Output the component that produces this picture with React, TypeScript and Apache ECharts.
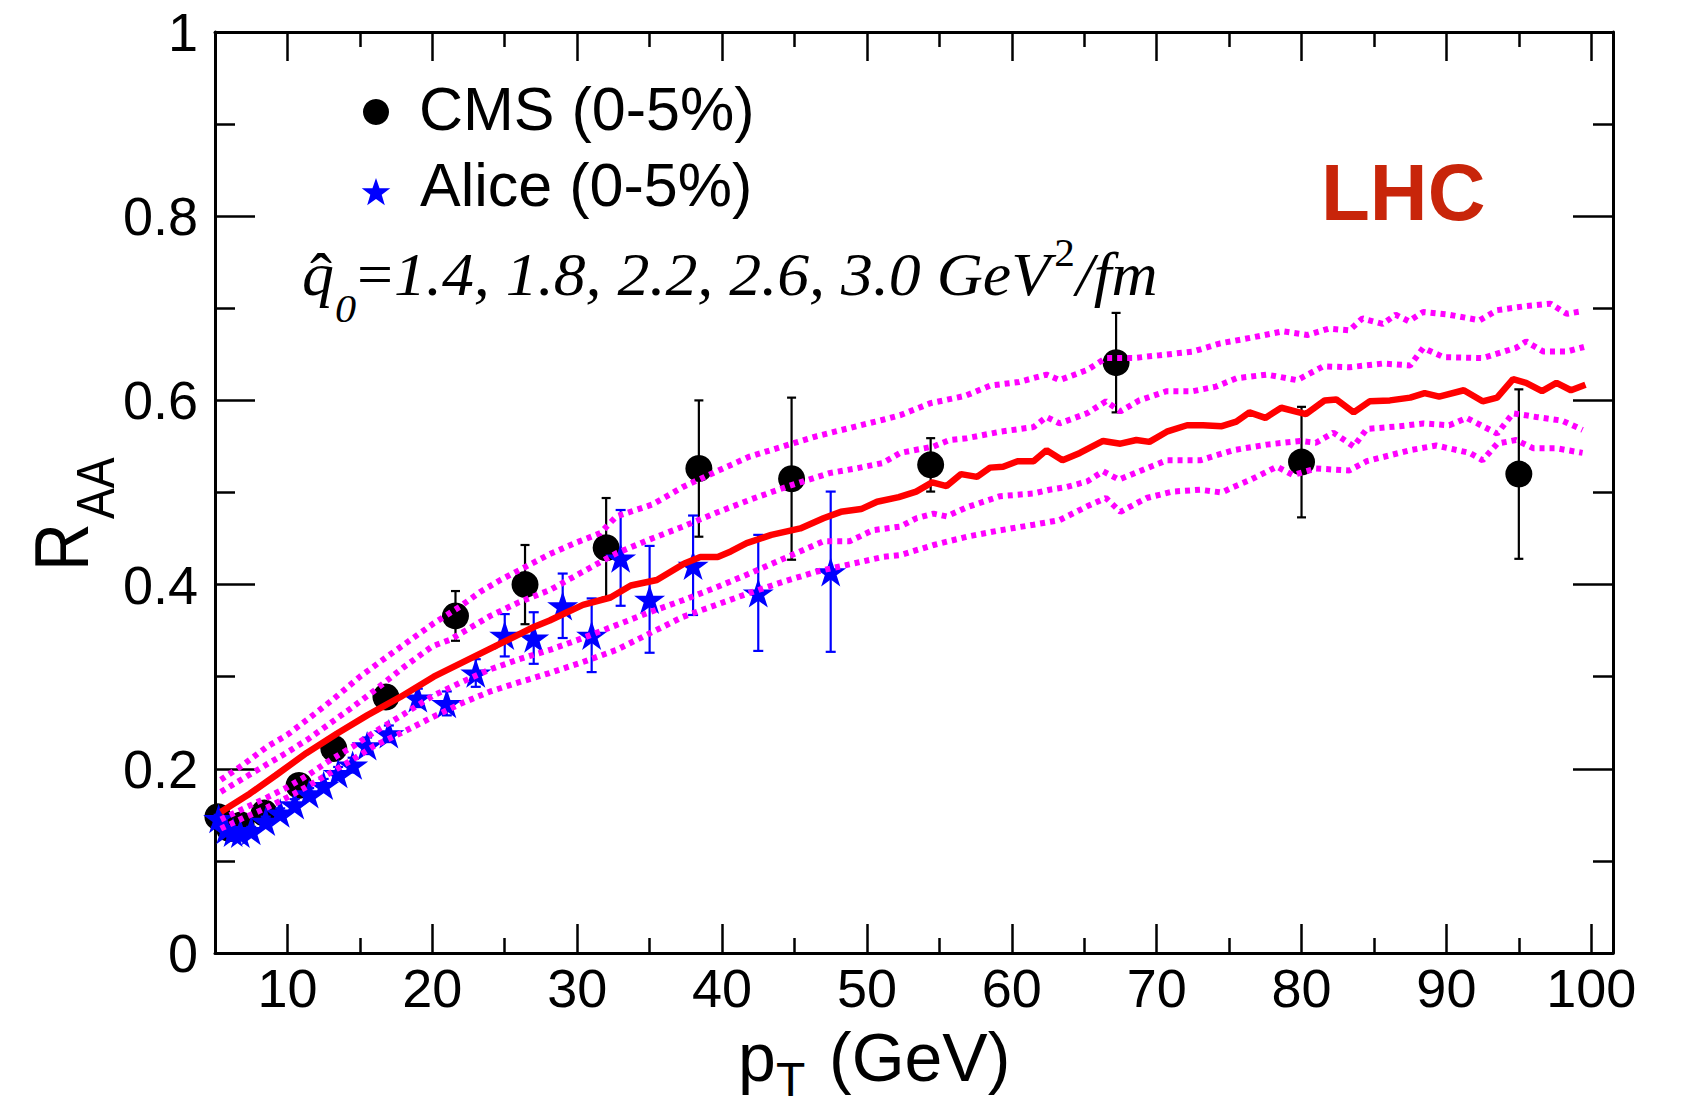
import React, { useEffect, useRef } from "react";
import * as echarts from "echarts";

// ---------- axis ticks ----------
const xMajorTicks = [10, 20, 30, 40, 50, 60, 70, 80, 90, 100];
const xMinorTicks = [15, 25, 35, 45, 55, 65, 75, 85, 95];

// ---------- CMS (0-5%) ----------
const cmsPt = [5.2, 6.0, 6.8, 8.4, 10.8, 13.2, 16.8, 21.6, 26.4, 32.0, 38.4, 44.8, 54.4, 67.2, 80.0, 95.0];
const cmsRaa = [0.148, 0.135, 0.139, 0.152, 0.182, 0.222, 0.278, 0.366, 0.4, 0.44, 0.526, 0.515, 0.53, 0.641, 0.533, 0.52];
const cmsErr = [0.005, 0.005, 0.005, 0.006, 0.007, 0.009, 0.012, 0.027, 0.043, 0.054, 0.074, 0.088, 0.029, 0.054, 0.06, 0.092];

// ---------- ALICE (0-5%) ----------
const alicePt = [5.25, 5.75, 6.25, 6.75, 7.5, 8.5, 9.5, 10.5, 11.5, 12.5, 13.5, 14.5, 15.5, 17, 19, 21, 23, 25, 27, 29, 31, 33, 35, 38, 42.5, 47.5];
const aliceRaa = [0.146, 0.134, 0.131, 0.13, 0.133, 0.143, 0.152, 0.161, 0.173, 0.182, 0.195, 0.204, 0.225, 0.238, 0.277, 0.271, 0.304, 0.345, 0.342, 0.377, 0.345, 0.429, 0.384, 0.421, 0.391, 0.414];
const aliceErr = [0.004, 0.004, 0.004, 0.004, 0.004, 0.005, 0.005, 0.006, 0.006, 0.007, 0.007, 0.008, 0.009, 0.009, 0.01, 0.013, 0.015, 0.023, 0.028, 0.035, 0.04, 0.052, 0.058, 0.054, 0.063, 0.087];

// ---------- theory curves, qhat0 = 1.4 ... 3.0 GeV^2/fm ----------
const q14Pt = [5.4, 7, 8.6, 10, 11.5, 13.2, 15, 16.9, 18.5, 20.1, 21.9, 23.3, 24.7, 26.4, 28.1, 30, 31.6, 32.7, 35.2, 37.3, 39.5, 41.9, 44.2, 46.5, 48.8, 51.1, 52.3, 54.4, 56.8, 58.5, 60.5, 62.4, 63.3, 65.2, 66.5, 68.4, 70.2, 72.5, 74.4, 76.5, 78.7, 80.4, 81.9, 83.3, 84.2, 85.6, 86.5, 87.4, 88.4, 90.2, 92.3, 93.5, 95.3, 97.2, 98.3, 99.4];
const q14Raa = [0.188, 0.205, 0.224, 0.237, 0.255, 0.276, 0.3, 0.322, 0.34, 0.358, 0.376, 0.392, 0.405, 0.419, 0.433, 0.446, 0.456, 0.474, 0.487, 0.506, 0.522, 0.539, 0.55, 0.561, 0.57, 0.579, 0.584, 0.597, 0.605, 0.616, 0.62, 0.628, 0.622, 0.633, 0.646, 0.646, 0.649, 0.653, 0.662, 0.668, 0.675, 0.671, 0.678, 0.676, 0.689, 0.683, 0.693, 0.686, 0.696, 0.693, 0.687, 0.698, 0.702, 0.705, 0.694, 0.697];

const q18Pt = [5.4, 7, 8.6, 10, 11.5, 13, 14.5, 16, 18, 20, 21.2, 22.5, 24, 26, 28.1, 30.4, 32.7, 35, 37.3, 39.6, 41.9, 44.6, 47.4, 49.2, 51.1, 52.3, 54.6, 55.7, 56.9, 59.2, 61.5, 62.4, 63.3, 65.2, 66.5, 67.5, 68.8, 70.7, 72.5, 74.1, 75.5, 77.6, 79.7, 81.5, 83.3, 85.6, 87.5, 88.4, 89.8, 92.5, 94.8, 95.5, 96.7, 98.3, 99.5];
const q18Raa = [0.175, 0.19, 0.205, 0.218, 0.233, 0.25, 0.267, 0.285, 0.31, 0.333, 0.34, 0.352, 0.366, 0.381, 0.394, 0.414, 0.434, 0.449, 0.463, 0.478, 0.492, 0.507, 0.521, 0.526, 0.532, 0.543, 0.55, 0.557, 0.559, 0.566, 0.571, 0.582, 0.575, 0.586, 0.599, 0.588, 0.6, 0.61, 0.61, 0.615, 0.624, 0.628, 0.622, 0.637, 0.636, 0.64, 0.638, 0.657, 0.647, 0.646, 0.657, 0.664, 0.653, 0.653, 0.658];

const q22Pt = [5.4, 7.4, 9.2, 11.3, 13.4, 15.5, 17.8, 20.1, 22.4, 24.7, 27.0, 28.1, 29.3, 30.4, 32.3, 33.7, 35.5, 37.4, 38.5, 39.7, 40.6, 41.7, 43.4, 45.4, 47.0, 48.2, 49.6, 50.7, 52.2, 53.4, 54.5, 55.5, 56.5, 57.6, 58.5, 59.4, 60.4, 61.5, 62.4, 63.5, 64.7, 66.3, 67.5, 68.6, 69.5, 70.7, 72.1, 73.2, 74.5, 75.5, 76.4, 77.5, 78.6, 80.3, 81.6, 82.4, 83.6, 84.7, 86.1, 87.5, 88.5, 89.5, 91.2, 92.5, 93.5, 94.6, 95.5, 96.6, 97.6, 98.6, 99.6];
const q22Raa = [0.153, 0.173, 0.193, 0.217, 0.238, 0.258, 0.278, 0.3, 0.318, 0.336, 0.354, 0.361, 0.37, 0.378, 0.386, 0.399, 0.405, 0.423, 0.43, 0.43, 0.436, 0.445, 0.454, 0.461, 0.472, 0.479, 0.482, 0.49, 0.495, 0.501, 0.511, 0.507, 0.52, 0.517, 0.527, 0.528, 0.534, 0.534, 0.546, 0.535, 0.543, 0.556, 0.553, 0.557, 0.555, 0.566, 0.573, 0.573, 0.572, 0.577, 0.587, 0.581, 0.592, 0.585, 0.6, 0.601, 0.587, 0.599, 0.6, 0.603, 0.608, 0.604, 0.611, 0.599, 0.603, 0.623, 0.619, 0.61, 0.619, 0.611, 0.617];

const q26Pt = [5.4, 7, 8.6, 10, 11.5, 13, 14.5, 16, 18, 20, 22, 24, 26, 28.1, 30.4, 32.7, 35, 37.3, 39.6, 41.9, 44.5, 47, 48.8, 50.4, 52.3, 53.4, 54.6, 55.5, 56.9, 59.2, 61.5, 62.6, 63.8, 65.2, 66.3, 67.4, 68.8, 70.7, 73, 75.3, 77.6, 79.9, 81, 82.2, 83.6, 84.5, 86.8, 88.4, 90.2, 91.4, 93.5, 94.6, 96.2, 98, 99.4];
const q26Raa = [0.145, 0.157, 0.169, 0.18, 0.194, 0.21, 0.224, 0.24, 0.259, 0.279, 0.294, 0.308, 0.319, 0.329, 0.342, 0.356, 0.37, 0.383, 0.397, 0.412, 0.43, 0.447, 0.447, 0.459, 0.463, 0.472, 0.477, 0.474, 0.484, 0.496, 0.499, 0.503, 0.506, 0.512, 0.523, 0.514, 0.523, 0.535, 0.535, 0.546, 0.552, 0.556, 0.554, 0.565, 0.55, 0.569, 0.572, 0.575, 0.573, 0.581, 0.564, 0.586, 0.582, 0.578, 0.568];

const q30Pt = [5.4, 7, 8.6, 10, 11.5, 13, 14.5, 16, 18, 20, 22, 24, 26, 28.1, 30.4, 32.7, 35, 37.3, 39.6, 41.9, 44.2, 46.5, 48.8, 51.1, 52.3, 54.6, 56.9, 59.2, 61.5, 63.3, 65.2, 66.5, 67.5, 69.3, 71.1, 73, 74.5, 75.3, 76.5, 78.3, 79.4, 81, 83.3, 84.5, 87.5, 89.3, 91.6, 92.5, 93.5, 94.8, 96, 97.6, 99.4];
const q30Raa = [0.135, 0.147, 0.158, 0.169, 0.182, 0.196, 0.21, 0.225, 0.24, 0.256, 0.271, 0.284, 0.294, 0.304, 0.316, 0.329, 0.347, 0.365, 0.378, 0.391, 0.403, 0.414, 0.422, 0.43, 0.432, 0.443, 0.452, 0.459, 0.465, 0.47, 0.485, 0.494, 0.479, 0.494, 0.501, 0.503, 0.5, 0.506, 0.514, 0.528, 0.519, 0.526, 0.524, 0.534, 0.546, 0.551, 0.543, 0.535, 0.553, 0.557, 0.548, 0.548, 0.543];

const SANS = "'Liberation Sans', Arial, Helvetica, sans-serif";
const SERIF = "'Liberation Serif', 'Times New Roman', Times, serif";
const STAR =
  "path://M50,2 L61.2,36.5 L97.6,36.5 L68.2,57.9 L79.4,92.5 L50,71.1 L20.6,92.5 L31.8,57.9 L2.4,36.5 L38.8,36.5 Z";

const zip = (xs: number[], ys: number[]) => xs.map((x, i) => [x, ys[i]]);

function measure(text: string, font: string): number {
  const ctx = document.createElement("canvas").getContext("2d");
  if (!ctx) return text.length * 20;
  ctx.font = font;
  return ctx.measureText(text).width;
}

function errorBars(xs: number[], ys: number[], es: number[], color: string, capHalf: number, width: number, z: number) {
  return {
    type: "custom",
    z,
    silent: true,
    data: xs.map((x, i) => [x, ys[i], es[i]]),
    encode: { x: 0, y: 1 },
    renderItem: (params: any, api: any) => {
      const x = api.value(0);
      const y = api.value(1);
      const e = api.value(2);
      const hi = api.coord([x, y + e]);
      const lo = api.coord([x, y - e]);
      const style = { stroke: color, lineWidth: width };
      return {
        type: "group",
        children: [
          { type: "line", shape: { x1: hi[0], y1: hi[1], x2: lo[0], y2: lo[1] }, style },
          { type: "line", shape: { x1: hi[0] - capHalf, y1: hi[1], x2: hi[0] + capHalf, y2: hi[1] }, style },
          { type: "line", shape: { x1: lo[0] - capHalf, y1: lo[1], x2: lo[0] + capHalf, y2: lo[1] }, style },
        ],
      };
    },
  };
}

// middle-anchored y for a given alphabetic baseline
const midFromBase = (base: number, fs: number, k = 0.3465) => base - k * fs;

function buildAnnotation() {
  const F = 62;
  const S = 41;
  const P = 40;
  const sx = 1.03;
  const base = 295;
  const it = (fs: number) => `italic ${fs}px ${SERIF}`;
  const up = (fs: number) => `${fs}px ${SERIF}`;
  const pieces = [
    { t: "q", font: it(F), fs: F, style: "italic", base, gap: 0 },
    { t: "0", font: it(S), fs: S, style: "italic", base: base + 27, gap: 1 },
    { t: "=", font: up(F), fs: F, style: "normal", base, gap: 1 },
    { t: "1.4, 1.8, 2.2, 2.6, 3.0 GeV", font: it(F), fs: F, style: "italic", base, gap: 1 },
    { t: "2", font: up(P), fs: P, style: "normal", base: base - 29, gap: 4 },
    { t: "/fm", font: it(F), fs: F, style: "italic", base, gap: 1 },
  ];
  let x = 302;
  const els: any[] = [];
  let qx = x;
  pieces.forEach((p, i) => {
    x += p.gap;
    if (i === 0) qx = x;
    els.push({
      type: "text",
      x,
      y: midFromBase(p.base, p.fs, 0.3375),
      scaleX: sx,
      style: {
        text: p.t,
        fontSize: p.fs,
        lineHeight: Math.round(p.fs * 0.8),
        fontFamily: SERIF,
        fontStyle: p.style,
        fill: "#000",
        align: "left",
        verticalAlign: "middle",
      },
    });
    x += measure(p.t, p.font) * sx;
  });
  // hat over q
  els.push({
    type: "text",
    x: qx + 19,
    y: 276,
    style: {
      text: "\u02C6",
      fontSize: 66,
      lineHeight: 30,
      fontFamily: SERIF,
      fill: "#000",
      align: "center",
      verticalAlign: "middle",
    },
  });
  return els;
}

function starPoints(cx: number, cy: number, R: number, r: number) {
  const pts: number[][] = [];
  for (let i = 0; i < 10; i++) {
    const a = -Math.PI / 2 + (i * Math.PI) / 5;
    const rad = i % 2 === 0 ? R : r;
    pts.push([cx + rad * Math.cos(a), cy + rad * Math.sin(a)]);
  }
  return pts;
}

export default function App() {
  const ref = useRef<HTMLDivElement>(null);

  useEffect(() => {
    if (!ref.current) return;
    const chart = echarts.init(ref.current, null, { renderer: "svg" });

    const axisLine = { show: true, lineStyle: { color: "#000", width: 3 } };
    const majorTickStyle = { color: "#000", width: 2.5 };
    const xBase = {
      type: "value",
      min: 5,
      max: 101.5,
      splitLine: { show: false },
      axisPointer: { show: false },
    };
    const yBase = {
      type: "value",
      min: 0,
      max: 1,
      interval: 0.2,
      splitLine: { show: false },
      minorSplitLine: { show: false },
    };

    const option: any = {
      animation: false,
      backgroundColor: "#fff",
      grid: { left: 215, top: 32, width: 1398, height: 921, containLabel: false },
      xAxis: [
        {
          ...xBase,
          position: "bottom",
          axisLine,
          axisTick: { show: true, inside: true, length: 29, lineStyle: majorTickStyle, customValues: xMajorTicks },
          axisLabel: {
            show: true,
            customValues: xMajorTicks,
            fontSize: 54,
            fontFamily: SANS,
            color: "#000",
            margin: 8,
          },
        },
        {
          ...xBase,
          position: "bottom",
          axisLine: { show: false },
          axisTick: { show: true, inside: true, length: 15, lineStyle: majorTickStyle, customValues: xMinorTicks },
          axisLabel: { show: false },
        },
        {
          ...xBase,
          position: "top",
          axisLine,
          axisTick: { show: true, inside: true, length: 29, lineStyle: majorTickStyle, customValues: xMajorTicks },
          axisLabel: { show: false },
        },
        {
          ...xBase,
          position: "top",
          axisLine: { show: false },
          axisTick: { show: true, inside: true, length: 15, lineStyle: majorTickStyle, customValues: xMinorTicks },
          axisLabel: { show: false },
        },
      ],
      yAxis: [
        {
          ...yBase,
          position: "left",
          axisLine,
          axisTick: { show: true, inside: true, length: 40, lineStyle: majorTickStyle },
          minorTick: { show: true, splitNumber: 2, length: 20, lineStyle: majorTickStyle },
          axisLabel: { show: true, fontSize: 54, fontFamily: SANS, color: "#000", margin: 17 },
        },
        {
          ...yBase,
          position: "right",
          axisLine,
          axisTick: { show: true, inside: true, length: 40, lineStyle: majorTickStyle },
          minorTick: { show: true, splitNumber: 2, length: 20, lineStyle: majorTickStyle },
          axisLabel: { show: false },
        },
      ],
      series: [
        errorBars(cmsPt, cmsRaa, cmsErr, "#000", 4.5, 2.2, 1),
        {
          name: "CMS (0-5%)",
          type: "scatter",
          z: 2,
          data: zip(cmsPt, cmsRaa),
          symbol: "circle",
          symbolSize: 27,
          itemStyle: { color: "#000", opacity: 1 },
        },
        errorBars(alicePt, aliceRaa, aliceErr, "#0000ff", 5, 2.2, 3),
        {
          name: "Alice (0-5%)",
          type: "scatter",
          z: 4,
          data: zip(alicePt, aliceRaa),
          symbol: STAR,
          symbolKeepAspect: true,
          symbolSize: 31,
          itemStyle: { color: "#0000ff", opacity: 1 },
        },
        ...[
          [q14Pt, q14Raa],
          [q18Pt, q18Raa],
          [q26Pt, q26Raa],
          [q30Pt, q30Raa],
        ].map(([xs, ys]) => ({
          type: "line",
          z: 5,
          data: zip(xs as number[], ys as number[]),
          symbol: "none",
          showSymbol: false,
          silent: true,
          lineStyle: { color: "#ff00ff", width: 6, type: [5, 5], opacity: 1 },
        })),
        {
          type: "line",
          z: 6,
          data: zip(q22Pt, q22Raa),
          symbol: "none",
          showSymbol: false,
          silent: true,
          lineStyle: { color: "#ff0000", width: 6.5, opacity: 1 },
        },
      ],
      graphic: [
        // legend
        { type: "circle", shape: { cx: 376, cy: 112, r: 13 }, style: { fill: "#000" } },
        { type: "polygon", shape: { points: starPoints(376, 193, 15, 6) }, style: { fill: "#0000ff" } },
        {
          type: "text",
          x: 419,
          y: 109,
          style: { text: "CMS (0-5%)", fontSize: 61, lineHeight: 56, fontFamily: SANS, fill: "#000", align: "left", verticalAlign: "middle" },
        },
        {
          type: "text",
          x: 420,
          y: 185,
          style: { text: "Alice (0-5%)", fontSize: 61, lineHeight: 56, fontFamily: SANS, fill: "#000", align: "left", verticalAlign: "middle" },
        },
        // LHC
        {
          type: "text",
          x: 1321,
          y: midFromBase(220, 80),
          style: {
            text: "LHC",
            fontSize: 80,
            lineHeight: 66,
            fontWeight: "bold",
            fontFamily: SANS,
            fill: "#c8250a",
            align: "left",
            verticalAlign: "middle",
          },
        },
        // annotation
        ...buildAnnotation(),
        // y axis title R_AA
        {
          type: "text",
          x: 62,
          y: 571,
          rotation: Math.PI / 2,
          scaleX: 0.87,
          style: { text: "R", fontSize: 76, lineHeight: 60, fontFamily: SANS, fill: "#000", align: "left", verticalAlign: "middle" },
        },
        {
          type: "text",
          x: 96,
          y: 519,
          rotation: Math.PI / 2,
          scaleX: 0.87,
          style: { text: "AA", fontSize: 53, lineHeight: 42, fontFamily: SANS, fill: "#000", align: "left", verticalAlign: "middle" },
        },
        // x axis title p_T (GeV)
        {
          type: "text",
          x: 738,
          y: midFromBase(1081, 68),
          style: { text: "p", fontSize: 68, lineHeight: 50, fontFamily: SANS, fill: "#000", align: "left", verticalAlign: "middle" },
        },
        {
          type: "text",
          x: 776,
          y: midFromBase(1096, 48),
          style: { text: "T", fontSize: 48, lineHeight: 36, fontFamily: SANS, fill: "#000", align: "left", verticalAlign: "middle" },
        },
        {
          type: "text",
          x: 829,
          y: midFromBase(1081, 68),
          style: { text: "(GeV)", fontSize: 68, lineHeight: 50, fontFamily: SANS, fill: "#000", align: "left", verticalAlign: "middle" },
        },
      ],
    };

    chart.setOption(option);
    return () => chart.dispose();
  }, []);

  return (
    <div
      ref={ref}
      style={{ position: "fixed", left: 0, top: 0, width: 1685, height: 1107, background: "#fff" }}
    />
  );
}
